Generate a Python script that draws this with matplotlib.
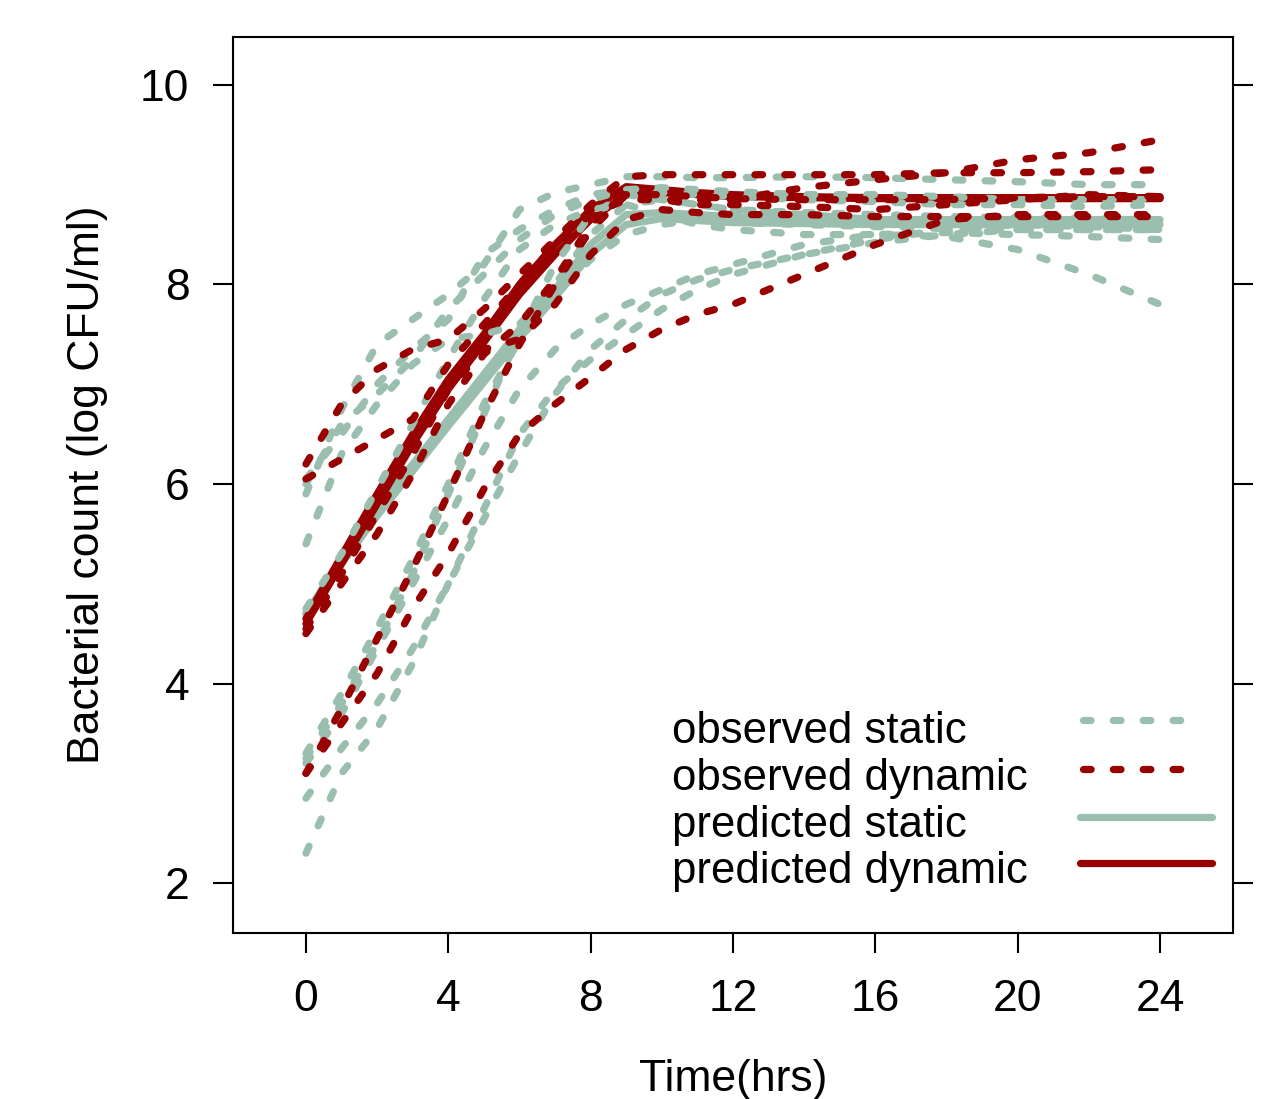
import matplotlib
matplotlib.use('Agg')
import matplotlib.pyplot as plt
from matplotlib.lines import Line2D

plt.rcParams['font.family'] = ['Liberation Sans', 'DejaVu Sans']
plt.rcParams['lines.scale_dashes'] = False

# ---------------- data ----------------
hours = [0, 1, 2, 3, 4, 5, 6, 7, 8, 9, 10, 11, 12, 14, 16, 18, 20, 22, 24]

static_obs_1 = [5.9, 6.75, 7.4, 7.65, 7.9, 8.2, 8.75, 8.92, 9.0, 9.08, 9.08, 9.07, 9.07, 9.08, 9.07, 9.05, 9.03, 9.0, 9.0]
static_obs_2 = [6.05, 6.5, 7.0, 7.35, 7.65, 8.3, 8.55, 8.75, 8.9, 8.95, 8.92, 8.9, 8.88, 8.85, 8.83, 8.8, 8.8, 8.78, 8.8]
static_obs_3 = [5.4, 6.3, 6.8, 7.2, 7.45, 7.5, 7.6, 8.0, 8.5, 8.8, 8.85, 8.8, 8.75, 8.7, 8.65, 8.62, 8.6, 8.58, 8.55]
static_obs_4 = [4.75, 5.3, 5.95, 6.6, 7.25, 7.85, 8.35, 8.6, 8.75, 8.8, 8.7, 8.6, 8.55, 8.5, 8.5, 8.48, 8.35, 8.1, 7.8]
static_obs_5 = [3.3, 3.9, 4.55, 5.25, 6.0, 6.8, 7.45, 7.9, 8.25, 8.5, 8.6, 8.65, 8.62, 8.6, 8.58, 8.56, 8.55, 8.55, 8.55]
static_obs_6 = [3.2, 3.7, 4.35, 5.0, 5.65, 6.35, 6.95, 7.35, 7.6, 7.8, 7.95, 8.1, 8.2, 8.4, 8.5, 8.52, 8.5, 8.48, 8.45]
static_obs_7 = [2.85, 3.35, 3.8, 4.35, 5.0, 5.65, 6.3, 6.9, 7.35, 7.65, 7.9, 8.05, 8.15, 8.3, 8.42, 8.5, 8.55, 8.55, 8.55]
static_obs_8 = [2.3, 3.1, 3.55, 4.2, 5.0, 5.75, 6.5, 6.95, 7.25, 7.5, 7.75, 7.95, 8.1, 8.3, 8.45, 8.55, 8.6, 8.62, 8.6]
static_obs_9 = [3.25, 3.8, 4.4, 5.1, 5.9, 6.7, 7.5, 8.2, 8.7, 8.9, 8.85, 8.8, 8.75, 8.72, 8.7, 8.68, 8.67, 8.66, 8.65]
static_obs_10 = [6.0, 6.6, 6.9, 7.25, 7.75, 8.1, 8.45, 8.7, 8.85, 8.95, 8.97, 8.95, 8.93, 8.9, 8.9, 8.88, 8.85, 8.85, 8.85]

dynamic_obs_1 = [6.2, 6.8, 7.15, 7.35, 7.45, 7.75, 8.1, 8.45, 8.8, 9.08, 9.1, 9.1, 9.1, 9.1, 9.1, 9.12, 9.12, 9.13, 9.15]
dynamic_obs_2 = [6.05, 6.25, 6.45, 6.65, 7.2, 7.6, 8.0, 8.4, 8.7, 8.85, 8.85, 8.85, 8.85, 8.97, 9.05, 9.12, 9.25, 9.32, 9.45]
dynamic_obs_3 = [4.55, 5.1, 5.7, 6.3, 6.95, 7.35, 7.45, 7.8, 8.3, 8.65, 8.75, 8.72, 8.7, 8.7, 8.68, 8.68, 8.68, 8.68, 8.68]
dynamic_obs_4 = [3.1, 3.75, 4.45, 5.15, 5.9, 6.7, 7.4, 8.0, 8.55, 8.9, 8.9, 8.88, 8.86, 8.85, 8.85, 8.85, 8.87, 8.88, 8.88]
dynamic_obs_5 = [3.1, 3.6, 4.1, 4.75, 5.3, 5.95, 6.5, 6.8, 7.07, 7.35, 7.55, 7.7, 7.8, 8.1, 8.4, 8.65, 8.7, 8.7, 8.7]
dynamic_obs_6 = [4.5, 5.0, 5.5, 6.1, 6.8, 7.3, 7.6, 8.05, 8.6, 8.95, 8.85, 8.8, 8.8, 8.78, 8.75, 8.8, 8.85, 8.9, 8.88]

static_pred_1 = [4.7, 5.25, 5.75, 6.2, 6.65, 7.1, 7.55, 7.95, 8.4, 8.7, 8.72, 8.7, 8.68, 8.66, 8.65, 8.65, 8.65, 8.65, 8.65]
static_pred_2 = [4.7, 5.2, 5.68, 6.13, 6.58, 7.02, 7.46, 7.87, 8.3, 8.6, 8.66, 8.64, 8.62, 8.61, 8.6, 8.6, 8.6, 8.6, 8.6]
dynamic_pred_1 = [4.65, 5.28, 5.9, 6.5, 7.05, 7.5, 8.0, 8.4, 8.75, 8.98, 8.95, 8.92, 8.9, 8.88, 8.87, 8.87, 8.87, 8.87, 8.87]
dynamic_pred_2 = [4.6, 5.2, 5.8, 6.4, 6.95, 7.42, 7.9, 8.3, 8.65, 8.9, 8.92, 8.9, 8.88, 8.87, 8.86, 8.86, 8.86, 8.86, 8.86]

static_observed = [static_obs_1, static_obs_2, static_obs_3, static_obs_4, static_obs_5,
                   static_obs_6, static_obs_7, static_obs_8, static_obs_9, static_obs_10]
dynamic_observed = [dynamic_obs_1, dynamic_obs_2, dynamic_obs_3, dynamic_obs_4, dynamic_obs_5, dynamic_obs_6]
static_predicted = [static_pred_1, static_pred_2]
dynamic_predicted = [dynamic_pred_1, dynamic_pred_2]

x_ticks = [0, 4, 8, 12, 16, 20, 24]
y_ticks = [2, 4, 6, 8, 10]
legend_labels = ['observed static', 'observed dynamic', 'predicted static', 'predicted dynamic']

# ---------------- style ----------------
GREEN = '#9BBFAE'
RED = '#990000'
LW = 5.2
DASH = (0, (5.5, 16.0))
FS = 32

fig = plt.figure(figsize=(12.66, 10.99), dpi=100)
ax = fig.add_axes([233 / 1266, 166 / 1099, 1000 / 1266, 896 / 1099])

# predicted curves underneath, observed dashed curves on top
for ys in static_predicted:
    ax.plot(hours, ys, color=GREEN, lw=LW, solid_capstyle='round', solid_joinstyle='round')
for ys in dynamic_predicted:
    ax.plot(hours, ys, color=RED, lw=LW, solid_capstyle='round', solid_joinstyle='round')
for ys in static_observed:
    ax.plot(hours, ys, color=GREEN, lw=LW, linestyle=DASH,
            dash_capstyle='round', solid_capstyle='round', dash_joinstyle='round')
for ys in dynamic_observed:
    ax.plot(hours, ys, color=RED, lw=LW, linestyle=DASH,
            dash_capstyle='round', solid_capstyle='round', dash_joinstyle='round')

ax.set_xlim(-2.05, 26.05)
ax.set_ylim(1.5, 10.48)
ax.set_xticks(x_ticks)
ax.set_yticks(y_ticks)
ax.tick_params(axis='both', direction='out', length=14.4, width=1.5, labelsize=FS, colors='black')
ax.tick_params(axis='x', pad=19)
ax.tick_params(axis='y', pad=17, right=True, labelright=False)
for sp in ax.spines.values():
    sp.set_linewidth(1.5)

ax.set_xlabel('Time(hrs)', fontsize=FS)
ax.set_ylabel('Bacterial count (log CFU/ml)', fontsize=FS)
ax.xaxis.set_label_coords(0.5, -0.141)
ax.yaxis.set_label_coords(-0.125, 0.5)

# legend (text on the left, line sample on the right, no frame)
styles = [(GREEN, DASH), (RED, DASH), (GREEN, '-'), (RED, '-')]
base_px = [743, 790, 837, 883]
line_px = [720, 769, 817, 863]
line_x = [(1080 - 233) / 1000, (1212 - 233) / 1000]
line_x_dot = [(1083 - 233) / 1000, (1192 - 233) / 1000]
for lab, (col, ls), bp, lp in zip(legend_labels, styles, base_px, line_px):
    ax.text((672 - 233) / 1000, (933 - bp) / 896, lab, transform=ax.transAxes,
            fontsize=31.5, ha='left', va='baseline')
    xs = line_x_dot if ls != '-' else line_x
    ax.add_line(Line2D(xs, [(933 - lp) / 896] * 2, transform=ax.transAxes,
                       color=col, lw=LW, linestyle=ls,
                       dash_capstyle='round', solid_capstyle='round'))

fig.savefig('out.png', dpi=100, facecolor='white')
